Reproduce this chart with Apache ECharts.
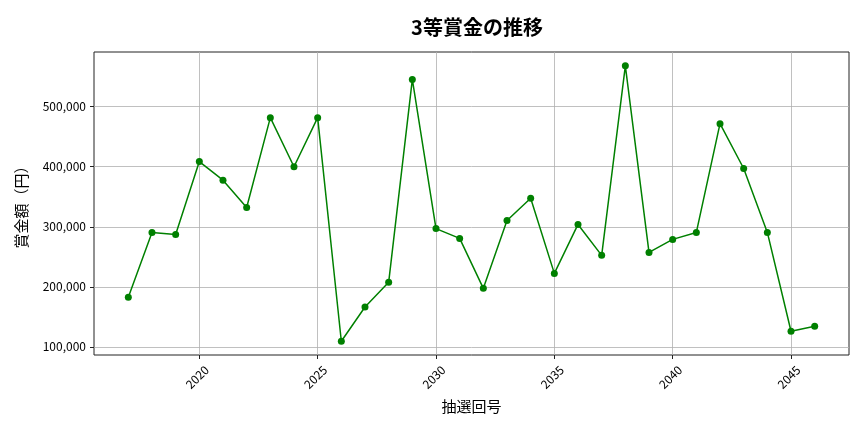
<!DOCTYPE html>
<html>
<head>
<meta charset="utf-8">
<script src="https://cdn.jsdelivr.net/npm/echarts@6/dist/echarts.min.js"></script>
<style>
  html, body { margin: 0; padding: 0; background: #fff; }
  #chart { width: 864px; height: 432px; }
</style>
</head>
<body>
<div id="chart"></div>
<script>
// 抽選回号 and 3等賞金 (円)
const rounds = [2017, 2018, 2019, 2020, 2021, 2022, 2023, 2024, 2025, 2026,
                2027, 2028, 2029, 2030, 2031, 2032, 2033, 2034, 2035, 2036,
                2037, 2038, 2039, 2040, 2041, 2042, 2043, 2044, 2045, 2046];
const prizes = [182500, 290600, 287000, 408600, 377600, 332000, 481700, 400000, 481700, 109400,
                166500, 207500, 545400, 297000, 280600, 197500, 310500, 347600, 222400, 303900,
                252400, 568000, 257300, 279000, 290600, 471700, 397000, 290600, 126000, 134300];
const xTicks = [2020, 2025, 2030, 2035, 2040, 2045];
const yTicks = [100000, 200000, 300000, 400000, 500000];

const FONT = '"Noto Sans CJK JP", "Noto Sans", sans-serif';
const chart = echarts.init(document.getElementById('chart'), null, { renderer: 'canvas' });

// matplotlib-style 5% margins
const xMin = 2015.55, xMax = 2047.45;
const yMin = 86500, yMax = 591000;

chart.setOption({
    animation: false,
    backgroundColor: '#fff',
    title: {
        text: '3等賞金の推移',
        left: 472, top: 12, textAlign: 'center',
        textStyle: { fontFamily: FONT, fontSize: 20, fontWeight: 'bold', color: '#000' }
    },
    grid: {
        left: 94, right: 15, top: 52, bottom: 77,
        show: true, borderColor: '#222', borderWidth: 1, backgroundColor: '#fff'
    },
    xAxis: {
        type: 'value', min: xMin, max: xMax, interval: 5,
        name: '抽選回号', nameLocation: 'middle', nameGap: 44,
        nameTextStyle: { fontFamily: FONT, fontSize: 15, color: '#000' },
        axisLine: { show: false },
        axisTick: { show: true, length: 4, lineStyle: { color: '#222' }, customValues: xTicks },
        axisLabel: {
            rotate: 45, margin: 20, align: 'center', verticalAlign: 'middle',
            padding: [0, 6, 0, 0],
            fontFamily: FONT, fontSize: 12, color: '#000',
            customValues: xTicks,
            formatter: v => xTicks.includes(v) ? String(v) : ''
        },
        splitLine: { show: true, lineStyle: { color: '#b0b0b0', width: 0.8 } }
    },
    yAxis: {
        type: 'value', min: yMin, max: yMax, interval: 100000,
        name: '賞金額（円）', nameLocation: 'middle', nameGap: 65, nameRotate: 90,
        nameTextStyle: { fontFamily: FONT, fontSize: 15, color: '#000' },
        axisLine: { show: false },
        axisTick: { show: true, length: 4, lineStyle: { color: '#222' }, customValues: yTicks },
        axisLabel: {
            margin: 8, fontFamily: FONT, fontSize: 12, color: '#000',
            customValues: yTicks,
            formatter: v => yTicks.includes(v) ? v.toLocaleString('en-US') : ''
        },
        splitLine: { show: true, lineStyle: { color: '#b0b0b0', width: 0.8 } }
    },
    series: [{
        type: 'line',
        data: rounds.map((r, i) => [r, prizes[i]]),
        symbol: 'circle', symbolSize: 7,
        lineStyle: { color: '#008000', width: 1.5 },
        itemStyle: { color: '#008000' }
    }]
});
</script>
</body>
</html>
